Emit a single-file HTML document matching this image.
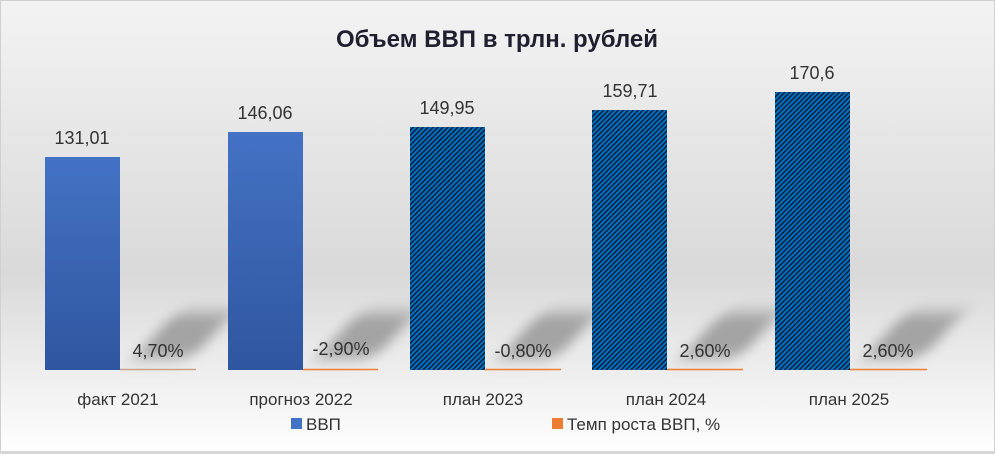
<!DOCTYPE html>
<html><head><meta charset="utf-8"><style>
body{margin:0;width:995px;height:454px;overflow:hidden;position:relative;font-family:"Liberation Sans","DejaVu Sans",sans-serif}
svg{position:absolute;left:0;top:0}
.s{position:absolute;top:312px;width:58px;height:46px;background:#a3a3a3;transform:skewX(-42deg);filter:blur(8px)}
</style></head><body>
<svg width="995" height="454" xmlns="http://www.w3.org/2000/svg">
<defs>
<linearGradient id="bg" x1="0" y1="0" x2="0" y2="1">
<stop offset="0" stop-color="#f3f3f3"/><stop offset="0.6" stop-color="#d9d9d9"/><stop offset="1" stop-color="#ffffff"/>
</linearGradient>
</defs>
<rect width="995" height="454" fill="url(#bg)"/>
<rect x="0.5" y="0.5" width="994" height="451" fill="none" stroke="#d0d0d0" stroke-width="1"/>
<rect x="0" y="451" width="995" height="3" fill="#d6d6d6"/>
</svg>
<div class="s" style="left:155px"></div>
<div class="s" style="left:338px"></div>
<div class="s" style="left:520px"></div>
<div class="s" style="left:702px"></div>
<div class="s" style="left:885px"></div>
<svg width="995" height="454" xmlns="http://www.w3.org/2000/svg">
<defs>
<linearGradient id="b1" x1="0" y1="0" x2="0" y2="1">
<stop offset="0" stop-color="#4472c4"/><stop offset="1" stop-color="#2f56a0"/>
</linearGradient>
<pattern id="h" width="3.5" height="3.5" patternUnits="userSpaceOnUse" patternTransform="rotate(45)">
<rect width="3.5" height="3.5" fill="#0070c0"/><rect width="1.4" height="3.5" fill="#0a1a33"/>
</pattern>
</defs>
<text x="497" y="47" text-anchor="middle" font-size="24" font-weight="bold" fill="#1f1f2f">Объем ВВП в трлн. рублей</text>
<rect x="45" y="157" width="75" height="213" fill="url(#b1)"/>
<rect x="228" y="132" width="75" height="238" fill="url(#b1)"/>
<rect x="410" y="127" width="75" height="243" fill="url(#h)"/>
<rect x="592" y="110" width="75" height="260" fill="url(#h)"/>
<rect x="775" y="92" width="75" height="278" fill="url(#h)"/>
<g stroke="#ed7d31" stroke-width="1.5">
<line x1="120" y1="369.5" x2="196" y2="369.5" stroke="#c9a08a"/>
<line x1="303" y1="369.5" x2="378" y2="369.5"/>
<line x1="485" y1="369.5" x2="561" y2="369.5"/>
<line x1="667" y1="369.5" x2="743" y2="369.5"/>
<line x1="850" y1="369.5" x2="927" y2="369.5"/>
</g>
<g font-size="18" fill="#333" text-anchor="middle">
<text x="82" y="144">131,01</text>
<text x="265" y="119">146,06</text>
<text x="447" y="114">149,95</text>
<text x="630" y="97">159,71</text>
<text x="812" y="79">170,6</text>
<text x="158" y="357">4,70%</text>
<text x="341" y="355">-2,90%</text>
<text x="523" y="357">-0,80%</text>
<text x="705" y="357">2,60%</text>
<text x="888" y="357">2,60%</text>
</g>
<g font-size="17" fill="#333" text-anchor="middle">
<text x="118" y="405">факт 2021</text>
<text x="301" y="405">прогноз 2022</text>
<text x="483" y="405">план 2023</text>
<text x="666" y="405">план 2024</text>
<text x="849" y="405">план 2025</text>
</g>
<rect x="291" y="418" width="11" height="11" fill="#4472c4"/>
<text x="306" y="430" font-size="17" fill="#333">ВВП</text>
<rect x="552" y="418" width="11" height="11" fill="#ed7d31"/>
<text x="567" y="430" font-size="17" fill="#333">Темп роста ВВП, %</text>
</svg>
</body></html>
